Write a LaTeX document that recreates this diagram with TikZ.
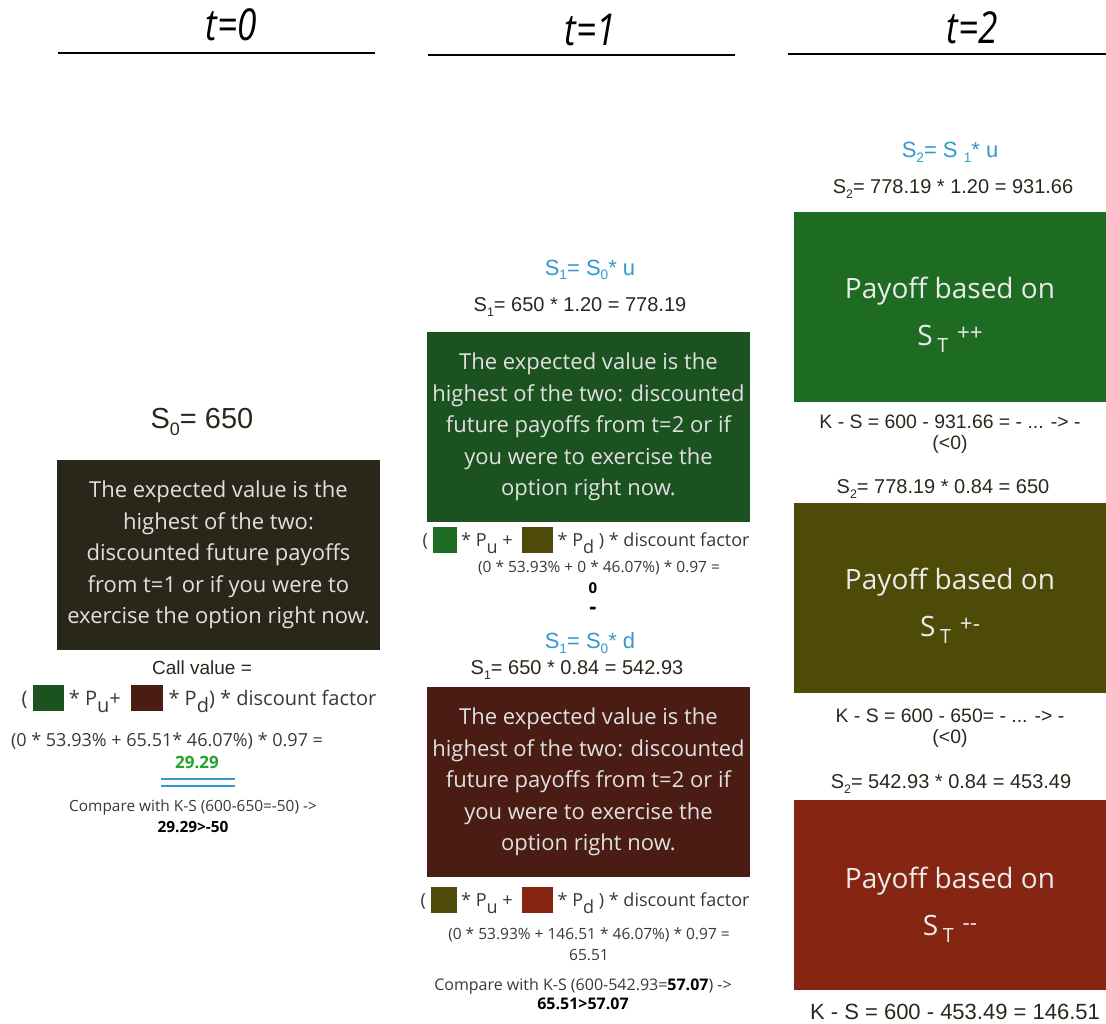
\documentclass[tikz,border=0pt]{standalone}
\usepackage{fontspec}
\setmainfont{Open Sans}
\newfontfamily\formfont{Liberation Sans}
\newcommand{\lowidx}[1]{\raisebox{-.4ex}{\scalebox{.62}{#1}}}
\newcommand{\dropidx}[1]{\raisebox{-.7ex}{#1}}
\newcommand{\swatch}[2]{\textcolor{#1}{\rule[-6pt]{#2}{26pt}}}
\newcommand{\stmark}[1]{S\,\raisebox{-.45ex}{\scalebox{.7}{T}}\hspace{9pt}\raisebox{.35ex}{\scalebox{.8}{#1}}}

\begin{document}
\begin{tikzpicture}[x=1pt,y=-1pt,line join=round,
  formula/.style={inner sep=0pt,text=inkDark,font=\formfont\fontsize{20}{24}\selectfont,align=center},
  blueformula/.style={inner sep=0pt,text=skyBlue,font=\formfont\fontsize{22}{26}\selectfont},
  opentext/.style={inner sep=0pt,text=black!78,align=center},
  valuebox/.style={inner sep=0pt,minimum width=323pt,minimum height=190pt,text=white!88!black,align=center,font=\fontsize{22}{31.5}\selectfont},
  payoffbox/.style={inner sep=0pt,minimum width=312pt,minimum height=190pt},
  payofftext/.style={inner sep=0pt,text=white!92!black,align=center,font=\fontsize{28}{47}\selectfont},
  period/.style={inner sep=0pt,font=\itshape\fontsize{44}{46}\selectfont}]
\definecolor{inkDark}{HTML}{2A281C}
\definecolor{skyBlue}{HTML}{3399CC}
\definecolor{nightOlive}{HTML}{29261A}
\definecolor{leafGreen}{HTML}{1B5220}
\definecolor{grassGreen}{HTML}{1E6C23}
\definecolor{mossOlive}{HTML}{4E4A08}
\definecolor{rustBrown}{HTML}{4A1C14}
\definecolor{brickRed}{HTML}{862512}
\definecolor{gainGreen}{HTML}{22A22C}
\useasboundingbox (0,0) rectangle (1106,1023);
% time headers
\node[period] (t0) at (231,25) {\scalebox{.8}[1]{t=0}};
\node[period] (t1) at (590,30) {\scalebox{.8}[1]{t=1}};
\node[period] (t2) at (972,28) {\scalebox{.8}[1]{t=2}};
\draw[line width=2pt] (58,53) -- (375,53);
\draw[line width=2pt] (428,55) -- (735,55);
\draw[line width=2pt] (788,54) -- (1106,54);
% t=0
\node[formula,font=\formfont\fontsize{29}{32}\selectfont] (s0) at (202,422) {S\lowidx{0}= 650};
\node[valuebox,fill=nightOlive] (box0) at (218.5,555) {The expected value is the\\highest of the two:\\discounted future payoffs\\from t=1 or if you were to\\exercise the option right now.};
\node[formula,font=\formfont\fontsize{19}{22}\selectfont] (callv) at (202,668) {Call value =};
\node[opentext,font=\fontsize{20}{24}\selectfont] (rule0) at (199,699) {( \swatch{leafGreen}{31pt} * P\dropidx{u}+ \ \swatch{rustBrown}{32pt} * P\dropidx{d}) * discount factor};
\node[opentext,font=\fontsize{18}{20}\selectfont] (calc0) at (167,741) {(0 * 53.93\% + 65.51* 46.07\%) * 0.97 =};
\node[opentext,text=gainGreen,font=\bfseries\fontsize{17}{20}\selectfont] (res0) at (197,762) {29.29};
\draw[skyBlue,line width=1.5pt] (161,779) -- (235,779) (161,786) -- (235,786);
\node[opentext,font=\fontsize{15.4}{21}\selectfont] (cmp0) at (193,816) {Compare with K-S (600-650=-50) ->\\\textbf{\color{black}29.29>-50}};
% t=1 up
\node[blueformula] (s1u) at (590,270) {S\lowidx{1}= S\lowidx{0}* u};
\node[formula] (s1uval) at (580,307) {S\lowidx{1}= 650 * 1.20 = 778.19};
\node[valuebox,fill=leafGreen] (box1) at (588.5,427) {The expected value is the\\highest of the two: discounted\\future payoffs from t=2 or if\\you were to exercise the\\option right now.};
\node[opentext,font=\fontsize{18}{22}\selectfont] (rule1) at (586,540) {( \swatch{grassGreen}{24pt} * P\dropidx{u} + \ \swatch{mossOlive}{31pt} * P\dropidx{d} ) * discount factor};
\node[opentext,font=\fontsize{15.5}{18}\selectfont] (calc1) at (599,568) {(0 * 53.93\% + 0 * 46.07\%) * 0.97 =};
\node[opentext,text=black,font=\bfseries\fontsize{15}{18}\selectfont] (res1) at (593,588) {0};
\node[opentext,text=black,font=\bfseries\fontsize{22}{22}\selectfont] (dash1) at (593,611) {-};
% t=1 down
\node[blueformula] (s1d) at (590,643) {S\lowidx{1}= S\lowidx{0}* d};
\node[formula] (s1dval) at (577,670) {S\lowidx{1}= 650 * 0.84 = 542.93};
\node[valuebox,fill=rustBrown] (box2) at (588.5,782) {The expected value is the\\highest of the two: discounted\\future payoffs from t=2 or if\\you were to exercise the\\option right now.};
\node[opentext,font=\fontsize{18}{22}\selectfont] (rule2) at (585,900) {( \swatch{mossOlive}{26pt} * P\dropidx{u} + \ \swatch{brickRed}{31pt} * P\dropidx{d} ) * discount factor};
\node[opentext,font=\fontsize{15.5}{21}\selectfont] (calc2) at (589,944.5) {(0 * 53.93\% + 146.51 * 46.07\%) * 0.97 =\\65.51};
\node[opentext,font=\fontsize{16}{19}\selectfont] (cmp2) at (583,994.5) {Compare with K-S (600-542.93=\textbf{\color{black}57.07}) ->\\\textbf{\color{black}65.51>57.07}};
% t=2
\node[blueformula] (s2uu) at (950,152) {S\lowidx{2}= S \lowidx{1}* u};
\node[formula] (s2uuval) at (953,189) {S\lowidx{2}= 778.19 * 1.20 = 931.66};
\node[payoffbox,fill=grassGreen] (box3) at (950,307) {};
\node[payofftext] (pay3) at ([yshift=-8pt]box3.center) {Payoff based on\\\stmark{++}};
\node[formula,font=\formfont\fontsize{19.4}{24}\selectfont] (ks3) at (950,434.5) {K - S = 600 - 931.66 = - ... -> -\\[-3pt](<0)};
\node[formula] (s2udval) at (943,489) {S\lowidx{2}= 778.19 * 0.84 = 650};
\node[payoffbox,fill=mossOlive] (box4) at (950,598) {};
\node[payofftext] (pay4) at ([yshift=-8pt]box4.center) {Payoff based on\\\stmark{+-}};
\node[formula,font=\formfont\fontsize{19.4}{24}\selectfont] (ks4) at (950,728.5) {K - S = 600 - 650= - ... -> -\\[-3pt](<0)};
\node[formula] (s2ddval) at (951,784) {S\lowidx{2}= 542.93 * 0.84 = 453.49};
\node[payoffbox,fill=brickRed] (box5) at (950,895) {};
\node[payofftext] (pay5) at ([yshift=-10pt]box5.center) {Payoff based on\\\stmark{-{}-}};
\node[formula,font=\formfont\fontsize{22}{26}\selectfont] (ks5) at (955,1012) {K - S = 600 - 453.49 = 146.51};
\end{tikzpicture}
\end{document}
